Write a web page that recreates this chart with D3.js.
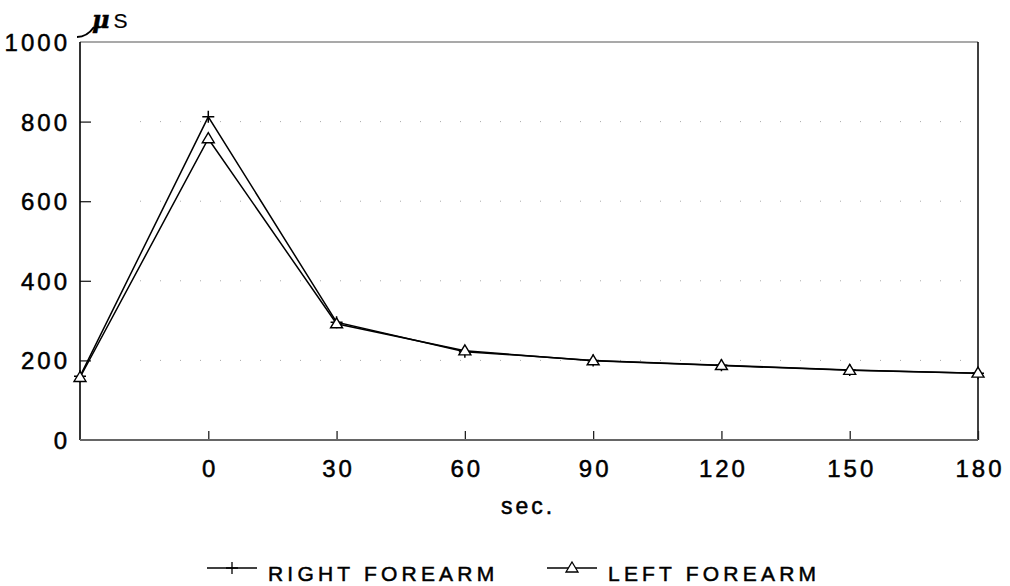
<!DOCTYPE html>
<html>
<head>
<meta charset="utf-8">
<script src="https://cdn.jsdelivr.net/npm/d3@7"></script>
<style>
  body { margin: 0; background: #fff; }
  text { font-family: "Liberation Sans", Arial, sans-serif; fill: #000; stroke: #000; stroke-width: 0.5px; }
</style>
</head>
<body>
<svg id="chart" width="1010" height="586"></svg>
<script>
// time points (sec.), first one is the unlabeled baseline
var times = [-30, 0, 30, 60, 90, 120, 150, 180];
var xTickLabels = [0, 30, 60, 90, 120, 150, 180];
var yTicks = [0, 200, 400, 600, 800, 1000];
var rightForearm = [160, 812, 296, 222, 200, 188, 176, 168];
var leftForearm = [157, 757, 292, 224, 199, 187, 175, 168];
var seriesNames = ["RIGHT FOREARM", "LEFT FOREARM"];

var svg = d3.select("#chart");
var plotL = 80, plotR = 978, plotT = 42, plotB = 440;

var x = d3.scaleLinear().domain([-30, 180]).range([plotL, plotR]);
var y = d3.scaleLinear().domain([0, 1000]).range([plotB, plotT]);

// faint dotted grid (as in the scan)
svg.append("g").selectAll("line")
    .data([200, 400, 600, 800])
    .enter().append("line")
    .attr("x1", plotL + 60).attr("x2", plotR - 10)
    .attr("y1", function(d) { return y(d); })
    .attr("y2", function(d) { return y(d); })
    .attr("stroke", "#aaa")
    .attr("stroke-width", 1)
    .attr("stroke-dasharray", "1,19");

// frame
svg.append("line").attr("x1", plotL).attr("x2", plotR).attr("y1", plotT).attr("y2", plotT)
    .attr("stroke", "#555").attr("stroke-width", 1.2);
svg.append("line").attr("x1", plotR).attr("x2", plotR).attr("y1", plotT).attr("y2", plotB)
    .attr("stroke", "#000").attr("stroke-width", 1.5);

// y axis: ticks pointing inward
var yAxis = d3.axisRight(y).tickValues(yTicks.filter(function(d) { return d > 0 && d < 1000; }))
    .tickSize(11).tickFormat("");
var gy = svg.append("g").attr("transform", "translate(" + plotL + ",0)").call(yAxis);
gy.select(".domain").remove();
gy.selectAll(".tick line").attr("stroke", "#222").attr("stroke-width", 1.3);
svg.append("line").attr("x1", plotL).attr("x2", plotL).attr("y1", plotT).attr("y2", plotB)
    .attr("stroke", "#000").attr("stroke-width", 1.6);

svg.append("g").selectAll("text")
    .data(yTicks)
    .enter().append("text")
    .attr("x", 70)
    .attr("y", function(d) { return y(d) + 9; })
    .attr("text-anchor", "end")
    .attr("font-size", 24)
    .attr("letter-spacing", 3)
    .text(function(d) { return d; });

// x axis: ticks pointing up
var xAxis = d3.axisTop(x).tickValues(xTickLabels).tickSize(9).tickFormat("");
var gx = svg.append("g").attr("transform", "translate(0," + plotB + ")").call(xAxis);
gx.select(".domain").remove();
gx.selectAll(".tick line").attr("stroke", "#222").attr("stroke-width", 1.3);
svg.append("line").attr("x1", plotL).attr("x2", plotR).attr("y1", plotB).attr("y2", plotB)
    .attr("stroke", "#666").attr("stroke-width", 2);

svg.append("g").selectAll("text")
    .data(xTickLabels)
    .enter().append("text")
    .attr("x", function(d) { return x(d) + 2; })
    .attr("y", 477)
    .attr("text-anchor", "middle")
    .attr("font-size", 24)
    .attr("letter-spacing", 3)
    .text(function(d) { return d; });

svg.append("text")
    .attr("x", 528).attr("y", 514)
    .attr("text-anchor", "middle")
    .attr("font-size", 23)
    .attr("letter-spacing", 3)
    .text("sec.");

// unit label
var unit = svg.append("text").attr("x", 92).attr("y", 28);
unit.append("tspan").attr("font-style", "italic").attr("font-family", "DejaVu Serif, serif")
    .attr("font-size", 24).attr("font-weight", "bold").text("μ");
unit.append("tspan").attr("dx", 4).attr("font-size", 21).attr("stroke-width", 0.2).text("S");
svg.append("path")
    .attr("d", "M77,37 Q87,37 94,27")
    .attr("fill", "none").attr("stroke", "#000").attr("stroke-width", 2);

// series
var line = d3.line()
    .x(function(d, i) { return x(times[i]); })
    .y(function(d) { return y(d); });

[rightForearm, leftForearm].forEach(function(vals) {
  svg.append("path")
      .datum(vals)
      .attr("d", line)
      .attr("fill", "none")
      .attr("stroke", "#000")
      .attr("stroke-width", 1.5);
});

var plusPath = "M-6,0H6M0,-6V6";
var triPath = "M0,-6L6,4H-6Z";

svg.append("g").selectAll("path")
    .data(rightForearm)
    .enter().append("path")
    .attr("transform", function(d, i) { return "translate(" + x(times[i]) + "," + y(d) + ")"; })
    .attr("d", plusPath)
    .attr("stroke", "#000").attr("stroke-width", 1.5).attr("fill", "none");

svg.append("g").selectAll("path")
    .data(leftForearm)
    .enter().append("path")
    .attr("transform", function(d, i) { return "translate(" + x(times[i]) + "," + y(d) + ")"; })
    .attr("d", triPath)
    .attr("stroke", "#000").attr("stroke-width", 1.4).attr("fill", "#fff");

// legend
var legendItems = [
  { name: seriesNames[0], x0: 207, marker: plusPath },
  { name: seriesNames[1], x0: 547, marker: triPath }
];
var lg = svg.append("g").selectAll("g")
    .data(legendItems)
    .enter().append("g")
    .attr("transform", function(d) { return "translate(" + d.x0 + ",568)"; });
lg.append("line").attr("x1", 0).attr("x2", 50).attr("y1", 0).attr("y2", 0)
    .attr("stroke", "#000").attr("stroke-width", 1.3);
lg.append("path").attr("transform", "translate(25,0)")
    .attr("d", function(d) { return d.marker; })
    .attr("stroke", "#000").attr("stroke-width", 1.3).attr("fill", "#fff");
lg.append("text")
    .attr("x", 61).attr("y", 13)
    .attr("font-size", 21)
    .attr("letter-spacing", 4.2)
    .text(function(d) { return d.name; });
</script>
</body>
</html>
